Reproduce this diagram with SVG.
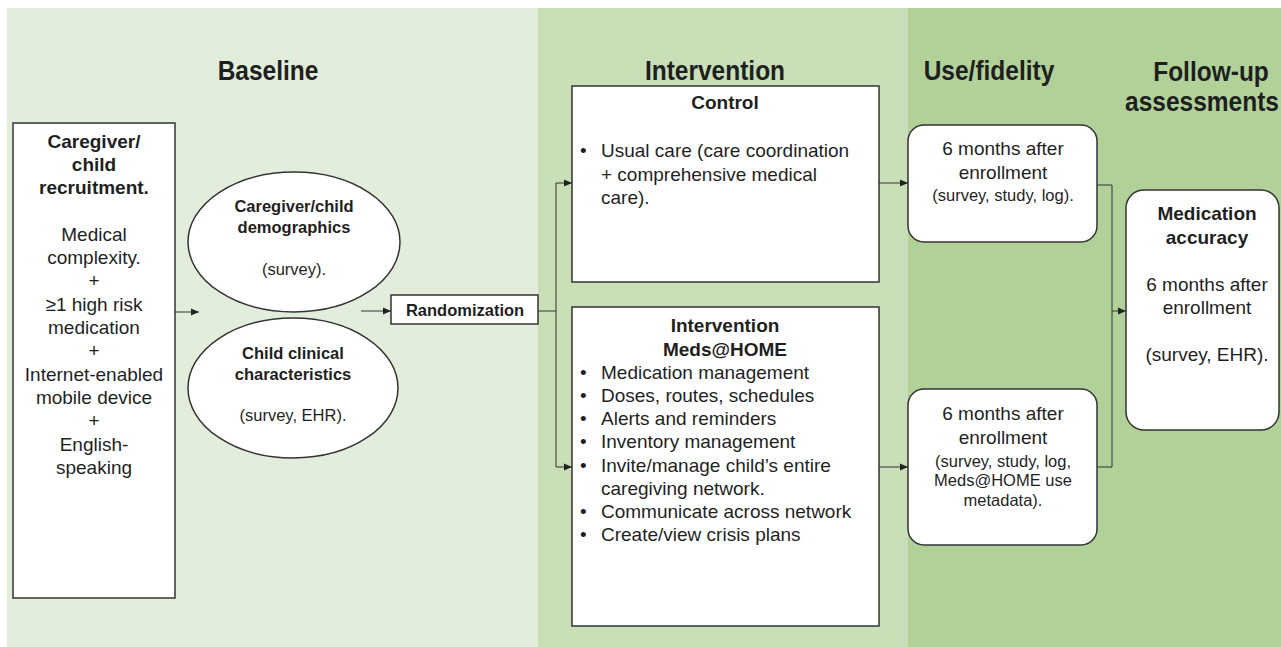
<svg xmlns="http://www.w3.org/2000/svg" width="1281" height="647" viewBox="0 0 1281 647">
<defs>
<style>
text{font-family:"Liberation Sans",Arial,sans-serif;fill:#1f1f1f}
.h{font-size:24.5px;font-weight:bold;text-anchor:middle}
.b{font-size:19px;font-weight:bold;text-anchor:middle}
.n{font-size:19px;text-anchor:middle}
.s{font-size:16.5px;text-anchor:middle}
.sb{font-size:16.5px;font-weight:bold;text-anchor:middle}
.l{font-size:19px}
.box{fill:#fff;stroke:#333;stroke-width:1.5}
.con{fill:none;stroke:#333;stroke-width:1}
</style>
<marker id="ah" markerUnits="userSpaceOnUse" markerWidth="9" markerHeight="8" refX="8" refY="4" orient="auto">
<path d="M0,0.5 L8,4 L0,7.5 Z" fill="#222"/>
</marker>
</defs>

<g id="panels">
<rect x="7" y="8" width="531" height="639" fill="#e2eedb"/>
<rect x="538" y="8" width="370" height="639" fill="#c9dfb8"/>
<rect x="908" y="8" width="373" height="639" fill="#b1d199"/>
<text class="h" transform="translate(268,80) scale(1,1.14)">Baseline</text>
<text class="h" transform="translate(715,80) scale(1,1.14)">Intervention</text>
<text class="h" transform="translate(989,80) scale(1,1.14)">Use/fidelity</text>
<text class="h" transform="translate(1211,81) scale(1,1.14)">Follow-up</text>
<text class="h" transform="translate(1202,111) scale(1,1.14)">assessments</text>
</g>

<g id="connectors">
<path class="con" d="M175,312 H199" marker-end="url(#ah)"/>
<path class="con" d="M361,311 H391" marker-end="url(#ah)"/>
<path class="con" d="M538,311 H556"/>
<path class="con" d="M556,183 V467"/>
<path class="con" d="M556,183 H572" marker-end="url(#ah)"/>
<path class="con" d="M556,467 H572" marker-end="url(#ah)"/>
<path class="con" d="M879,183 H908" marker-end="url(#ah)"/>
<path class="con" d="M879,467 H908" marker-end="url(#ah)"/>
<path class="con" d="M1097,185 H1112 V467 H1097"/>
<path class="con" d="M1112,311 H1126" marker-end="url(#ah)"/>
</g>

<g id="recruitment">
<rect class="box" x="13" y="123" width="162" height="475"/>
<text class="b" x="94" y="148">Caregiver/</text>
<text class="b" x="94" y="171">child</text>
<text class="b" x="94" y="194">recruitment.</text>
<text class="n" x="94" y="241">Medical</text>
<text class="n" x="94" y="264">complexity.</text>
<text class="n" x="94" y="287">+</text>
<text class="n" x="94" y="311">≥1 high risk</text>
<text class="n" x="94" y="334">medication</text>
<text class="n" x="94" y="357">+</text>
<text class="n" x="94" y="381">Internet-enabled</text>
<text class="n" x="94" y="404">mobile device</text>
<text class="n" x="94" y="427">+</text>
<text class="n" x="94" y="451">English-</text>
<text class="n" x="94" y="474">speaking</text>
</g>

<g id="demographics">
<ellipse class="box" cx="294" cy="242" rx="106" ry="70"/>
<text class="sb" x="294" y="212">Caregiver/child</text>
<text class="sb" x="294" y="233">demographics</text>
<text class="s" x="294" y="275">(survey).</text>
</g>

<g id="clinical">
<ellipse class="box" cx="293" cy="388" rx="105" ry="70"/>
<text class="sb" x="293" y="359">Child clinical</text>
<text class="sb" x="293" y="380">characteristics</text>
<text class="s" x="293" y="421">(survey, EHR).</text>
</g>

<g id="randomization">
<rect class="box" x="391" y="295" width="147" height="29"/>
<text class="sb" x="465" y="316">Randomization</text>
</g>

<g id="control">
<rect class="box" x="572" y="86" width="307" height="196"/>
<text class="b" x="725" y="109">Control</text>
<text class="l" x="580" y="157">•</text>
<text class="l" x="601" y="157">Usual care (care coordination</text>
<text class="l" x="601" y="181">+ comprehensive medical</text>
<text class="l" x="601" y="204">care).</text>
</g>

<g id="intervention">
<rect class="box" x="572" y="307" width="307" height="319"/>
<text class="b" x="725" y="332">Intervention</text>
<text class="b" x="725" y="356">Meds@HOME</text>
<text class="l" x="580" y="379">•</text><text class="l" x="601" y="379">Medication management</text>
<text class="l" x="580" y="402">•</text><text class="l" x="601" y="402">Doses, routes, schedules</text>
<text class="l" x="580" y="425">•</text><text class="l" x="601" y="425">Alerts and reminders</text>
<text class="l" x="580" y="448">•</text><text class="l" x="601" y="448">Inventory management</text>
<text class="l" x="580" y="472">•</text><text class="l" x="601" y="472">Invite/manage child’s entire</text>
<text class="l" x="601" y="495">caregiving network.</text>
<text class="l" x="580" y="518">•</text><text class="l" x="601" y="518">Communicate across network</text>
<text class="l" x="580" y="541">•</text><text class="l" x="601" y="541">Create/view crisis plans</text>
</g>

<g id="use-control">
<rect class="box" x="908" y="125" width="189" height="117" rx="16"/>
<text class="n" x="1003" y="155">6 months after</text>
<text class="n" x="1003" y="179">enrollment</text>
<text class="s" x="1003" y="201">(survey, study, log).</text>
</g>

<g id="use-intervention">
<rect class="box" x="908" y="389" width="189" height="156" rx="16"/>
<text class="n" x="1003" y="420">6 months after</text>
<text class="n" x="1003" y="444">enrollment</text>
<text class="s" x="1003" y="467">(survey, study, log,</text>
<text class="s" x="1003" y="486">Meds@HOME use</text>
<text class="s" x="1003" y="506">metadata).</text>
</g>

<g id="medication-accuracy">
<rect class="box" x="1126" y="190" width="153" height="240" rx="18"/>
<text class="b" x="1207" y="220">Medication</text>
<text class="b" x="1207" y="244">accuracy</text>
<text class="n" x="1207" y="291">6 months after</text>
<text class="n" x="1207" y="314">enrollment</text>
<text class="n" x="1207" y="361">(survey, EHR).</text>
</g>
</svg>
